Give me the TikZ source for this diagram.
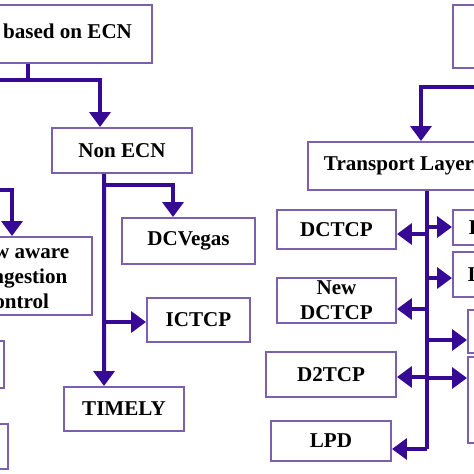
\documentclass[tikz,border=0pt]{standalone}
\usepackage{fontspec}
\setmainfont{Liberation Serif}
\usepackage{tikz}
\usetikzlibrary{arrows.meta}
\definecolor{linkcol}{RGB}{55,10,150}
\definecolor{boxcol}{RGB}{125,95,175}

\begin{document}
\begin{tikzpicture}[x=0.02cm,y=-0.02cm]
\tikzstyle{box} = [draw=boxcol, line width=0.04cm, fill=white, inner sep=0pt, align=center, font=\bfseries\fontsize{12}{14.2}\selectfont]
\tikzstyle{link} = [draw=linkcol, line width=0.08cm]
\tikzstyle{edge} = [link, -{Triangle[width=0.42cm,length=0.3cm]}]

\useasboundingbox (0,0) rectangle (474,474);
\clip (0,0) rectangle (474,474);

\node[box, anchor=east, inner xsep=0.4cm, minimum height=1.16cm] (top) at (153,34) {Congestion Control based on ECN};
\node[box, minimum width=2.8cm, minimum height=0.9cm] (nonecn) at (122,150.5) {Non ECN};
\node[box, minimum width=3cm, minimum height=1.56cm] (flow) at (17,276) {Flow aware\\Congestion\\control};
\node[box, minimum width=2.66cm, minimum height=0.92cm] (dcvegas) at (188.5,241) {DCVegas};
\node[box, minimum width=2.06cm, minimum height=0.88cm] (ictcp) at (198.5,320) {ICTCP};
\node[box, minimum width=2.4cm, minimum height=0.88cm] (timely) at (124,409) {TIMELY};
\node[box, anchor=east, minimum width=2.4cm, minimum height=0.94cm] (l1) at (5,364.5) {};
\node[box, anchor=east, minimum width=2.4cm, minimum height=0.9cm] (l2) at (9,446.5) {};

\node[box, anchor=west, minimum width=2.4cm, minimum height=1.26cm] (layer) at (452,36.5) {};
\node[box, anchor=west, inner xsep=0.32cm, minimum height=0.96cm] (transport) at (307,166) {Transport Layer};
\node[box, minimum width=2.38cm, minimum height=0.78cm] (dctcp) at (336.5,229.5) {DCTCP};
\node[box, minimum width=2.38cm, minimum height=0.9cm] (newdctcp) at (336.5,300.5) {New\\DCTCP};
\node[box, minimum width=2.6cm, minimum height=0.9cm] (d2tcp) at (331,374.5) {D2TCP};
\node[box, minimum width=2.4cm, minimum height=0.8cm] (lpd) at (331,441) {LPD};
\node[box, anchor=west, inner xsep=0.32cm, minimum height=0.7cm] (r1) at (452,227.5) {HULL};
\node[box, anchor=west, inner xsep=0.3cm, minimum height=0.9cm] (r2) at (452,274.5) {L2DCT};
\node[box, anchor=west, minimum width=2.4cm, minimum height=0.86cm] (r3) at (467,331.5) {};
\node[box, anchor=west, minimum width=2.4cm, minimum height=1.72cm] (r4) at (467,400) {};

\coordinate (j1) at (28,80);
\coordinate (ecn) at (-20,80);
\coordinate (ecn2) at (-20,190);
\coordinate (n1) at (104,185);
\coordinate (n2) at (104,322);
\coordinate (tj) at (421,87);
\coordinate (tr2) at (500,87);
\coordinate (t1) at (427,234);
\coordinate (t2) at (427,309);
\coordinate (t3) at (427,377);
\coordinate (t4) at (427,449);
\coordinate (s1) at (427,227);
\coordinate (s2) at (427,278);
\coordinate (s3) at (427,340);
\coordinate (s4) at (427,378);

\draw[link] (top.south -| j1) -- (j1) -- (ecn);
\draw[edge] (j1) -| ([xshift=-0.44cm]nonecn.north);
\draw[edge] (ecn2) -| ([xshift=-0.1cm]flow.north);
\draw[edge] ([xshift=-0.36cm]nonecn.south) -- ([xshift=-0.4cm]timely.north);
\draw[edge] (n1) -| ([xshift=-0.31cm]dcvegas.north);
\draw[edge] (n2) -- (n2 -| ictcp.west);

\draw[edge] (tr2) -- (tj) -- (tj |- transport.north);
\draw[link] (transport.south -| t4) -- (t4);
\draw[edge] (t4) -- (t4 -| lpd.east);
\draw[edge] (t1) -- (t1 -| dctcp.east);
\draw[edge] (t2) -- (t2 -| newdctcp.east);
\draw[edge] (t3) -- (t3 -| d2tcp.east);
\draw[edge] (s1) -- (s1 -| r1.west);
\draw[edge] (s2) -- (s2 -| r2.west);
\draw[edge] (s3) -- (s3 -| r3.west);
\draw[edge] (s4) -- (s4 -| r4.west);
\end{tikzpicture}
\end{document}
